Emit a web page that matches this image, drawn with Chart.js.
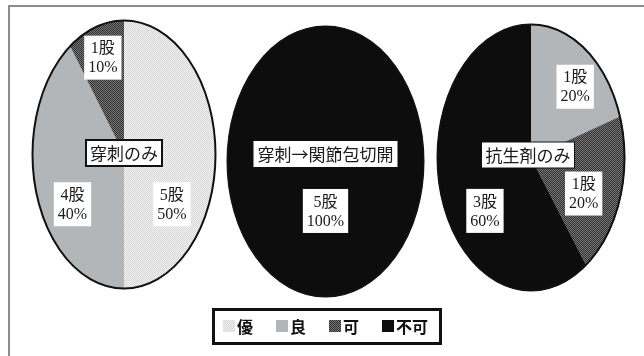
<!DOCTYPE html>
<html lang="ja">
  <head>
    <meta charset="utf-8" />
    <title>治療法別成績</title>
    <style>
      * {
        margin: 0;
        padding: 0;
      }
      body {
        width: 644px;
        height: 356px;
        overflow: hidden;
        background: #fff;
      }
      .frame {
        position: absolute;
        left: 8px;
        top: 5px;
        width: 660px;
        height: 380px;
        border-left: 2px solid #8c8c8c;
        border-top: 2px solid #8c8c8c;
      }
      canvas {
        position: absolute;
      }
    </style>
  </head>
  <body>
    <div class="frame"></div>
    <canvas id="pie1"></canvas>
    <canvas id="pie2"></canvas>
    <canvas id="pie3"></canvas>
    <canvas id="legend" width="240" height="46"></canvas>

    <script src="https://cdn.jsdelivr.net/npm/chart.js"></script>
    <script>
      // data block
      const grades = ["優", "良", "可", "不可"];
      const groups = ["穿刺のみ", "穿刺→関節包切開", "抗生剤のみ"];
      const punctureOnly = [5, 4, 1, 0];
      const punctureIncision = [0, 0, 0, 5];
      const antibioticsOnly = [0, 1, 1, 3];

      // fills: dotted, grey, checker, black
      const makePattern = (a, b) => {
        const c = document.createElement("canvas");
        c.width = 2;
        c.height = 2;
        const g = c.getContext("2d");
        g.fillStyle = a;
        g.fillRect(0, 0, 2, 2);
        g.fillStyle = b;
        g.fillRect(0, 0, 1, 1);
        g.fillRect(1, 1, 1, 1);
        return g.createPattern(c, "repeat");
      };
      const makeFills = () => [
        makePattern("#f2f2f2", "#d6d6d6"),
        "#b3b6b9",
        makePattern("#777777", "#303030"),
        "#0d0d0d",
      ];

      // layout of each pie (ellipse box, label anchors as fractions of radii)
      const pies = [
        {
          id: "pie1",
          values: punctureOnly,
          title: groups[0],
          cx: 123.5, cy: 154.5, rx: 92, ry: 134.5,
          titleAt: [0, -1.5], titleBorder: 2,
          labelAt: [[0.52, 0.37], [-0.56, 0.37], [-0.23, -0.72], null],
        },
        {
          id: "pie2",
          values: punctureIncision,
          title: groups[1],
          cx: 325.5, cy: 161.5, rx: 98.5, ry: 135.5,
          titleAt: [0, -7.5], titleBorder: 0,
          labelAt: [null, null, null, [0, 0.365]],
        },
        {
          id: "pie3",
          values: antibioticsOnly,
          title: groups[2],
          cx: 531, cy: 157.5, rx: 94, ry: 133.5,
          titleAt: [-3, -2.5], titleBorder: 1,
          labelAt: [null, [0.47, -0.53], [0.56, 0.27], [-0.49, 0.4]],
        },
      ];

      const boxText = (ctx, lines, x, y, font, lineH, padX, border) => {
        ctx.font = font;
        const w = Math.max(...lines.map((t) => ctx.measureText(t).width)) + padX * 2;
        const h = lines.length * lineH + 6;
        ctx.fillStyle = "#fff";
        ctx.fillRect(x - w / 2, y - h / 2, w, h);
        if (border) {
          ctx.lineWidth = border;
          ctx.strokeStyle = "#111";
          ctx.strokeRect(x - w / 2, y - h / 2, w, h);
        }
        ctx.fillStyle = "#1a1a1a";
        ctx.textAlign = "center";
        ctx.textBaseline = "middle";
        lines.forEach((t, i) => {
          ctx.fillText(t, x, y - ((lines.length - 1) * lineH) / 2 + i * lineH + 1);
        });
      };

      // stretch the round pie into an upright ellipse and label it
      const ellipsePie = {
        id: "ellipsePie",
        beforeDatasetsDraw(chart, args, opts) {
          const arc = chart.getDatasetMeta(0).data[0];
          const { ctx } = chart;
          const sx = opts.rx / arc.outerRadius;
          const sy = opts.ry / arc.outerRadius;
          ctx.save();
          ctx.translate(arc.x, arc.y);
          ctx.scale(sx, sy);
          ctx.translate(-arc.x, -arc.y);
          // keep the hatch patterns on the pixel grid despite the stretch
          chart.data.datasets[0].backgroundColor.forEach((f) => {
            if (f instanceof CanvasPattern) {
              f.setTransform(
                new DOMMatrix([1 / sx, 0, 0, 1 / sy, arc.x - arc.x / sx, arc.y - arc.y / sy])
              );
            }
          });
        },
        afterDatasetsDraw(chart, args, opts) {
          const { ctx } = chart;
          ctx.restore();
          const meta = chart.getDatasetMeta(0);
          const arc = meta.data[0];
          ctx.save();
          ctx.beginPath();
          ctx.ellipse(arc.x, arc.y, opts.rx - 0.5, opts.ry - 0.5, 0, 0, Math.PI * 2);
          ctx.lineWidth = 2;
          ctx.strokeStyle = "#111";
          ctx.stroke();

          const values = chart.data.datasets[0].data;
          const total = values.reduce((a, b) => a + b, 0);
          values.forEach((v, i) => {
            const at = opts.labelAt[i];
            if (!v || !at) return;
            const pct = Math.round((v / total) * 100);
            boxText(
              ctx,
              [v + "股", pct + "%"],
              arc.x + at[0] * opts.rx,
              arc.y + at[1] * opts.ry,
              '16px "Liberation Serif", "Noto Sans CJK JP"',
              19, 4, 0
            );
          });
          boxText(
            ctx,
            [opts.title],
            arc.x + opts.titleAt[0],
            arc.y + opts.titleAt[1],
            '17px "Noto Sans CJK JP"',
            20, 4, opts.titleBorder
          );
          ctx.restore();
        },
      };

      // init render block
      pies.forEach((p) => {
        const cv = document.getElementById(p.id);
        const w = Math.ceil(p.rx * 2 + 8);
        const h = Math.ceil(p.ry * 2 + 8);
        cv.width = w;
        cv.height = h;
        cv.style.left = Math.round(p.cx - w / 2) + "px";
        cv.style.top = Math.round(p.cy - h / 2) + "px";
        new Chart(cv, {
          type: "pie",
          data: {
            labels: grades,
            datasets: [
              {
                data: p.values,
                backgroundColor: makeFills(),
                borderWidth: 0,
              },
            ],
          },
          options: {
            responsive: false,
            animation: false,
            events: [],
            layout: { padding: 4 },
            plugins: {
              legend: { display: false },
              tooltip: { enabled: false },
              ellipsePie: p,
            },
          },
          plugins: [ellipsePie],
        });
      });

      // legend box
      const legendFills = makeFills();
      const lg = document.getElementById("legend");
      lg.style.left = "208px";
      lg.style.top = "304px";
      const lctx = lg.getContext("2d");
      lctx.lineWidth = 3;
      lctx.strokeStyle = "#111";
      lctx.strokeRect(5.5, 5.5, 227, 34);
      lctx.font = 'bold 16px "Noto Sans CJK JP"';
      lctx.textBaseline = "middle";
      let lx = 15;
      grades.forEach((g, i) => {
        lctx.fillStyle = legendFills[i];
        lctx.fillRect(lx, 16, 12, 12);
        lctx.fillStyle = "#111";
        lctx.fillText(g, lx + 14, 23);
        lx += 14 + lctx.measureText(g).width + 23;
      });
    </script>
  </body>
</html>
